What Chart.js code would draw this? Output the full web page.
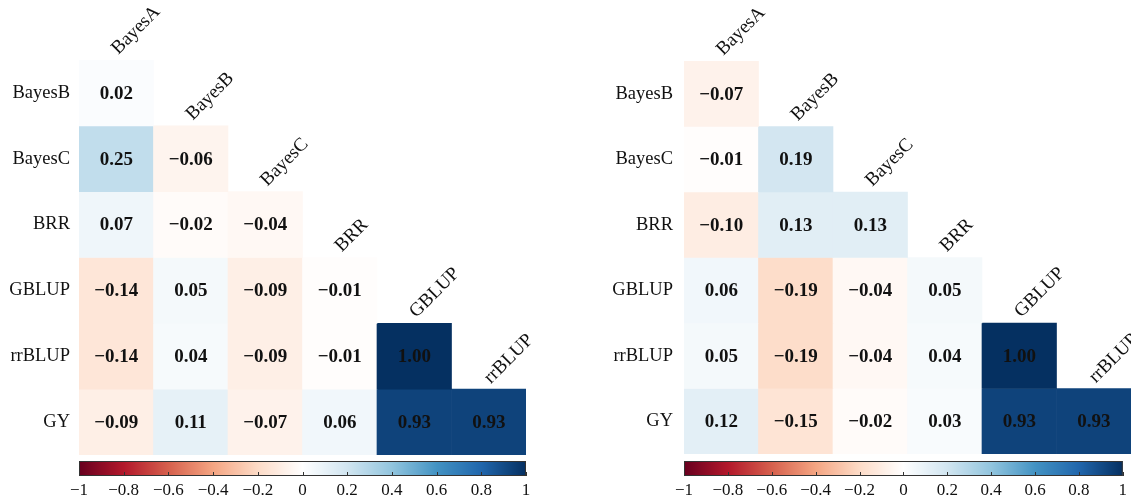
<!DOCTYPE html>
<html>
<head>
<meta charset="utf-8">
<script src="https://cdn.jsdelivr.net/npm/chart.js@4.4.1/dist/chart.umd.min.js"></script>
<style>
  html, body { margin: 0; padding: 0; background: #fff; width: 1131px; height: 495px; overflow: hidden; }
  canvas { position: absolute; display: block; }
</style>
</head>
<body>
<canvas id="heatLeft" width="560" height="460" style="left:0;top:0"></canvas>
<canvas id="heatRight" width="531" height="460" style="left:600px;top:0"></canvas>
<canvas id="barLeft" width="560" height="40" style="left:0;top:455px"></canvas>
<canvas id="barRight" width="531" height="40" style="left:600px;top:455px"></canvas>
<script>
// Row / column names of the lower-triangular correlation matrices
const rowNames = ['BayesB', 'BayesC', 'BRR', 'GBLUP', 'rrBLUP', 'GY'];
const colNames = ['BayesA', 'BayesB', 'BayesC', 'BRR', 'GBLUP', 'rrBLUP'];

// Correlations, left panel (row i holds columns 0..i)
const corrLeft = [
  [0.02],
  [0.25, -0.06],
  [0.07, -0.02, -0.04],
  [-0.14, 0.05, -0.09, -0.01],
  [-0.14, 0.04, -0.09, -0.01, 1.00],
  [-0.09, 0.11, -0.07, 0.06, 0.93, 0.93]
];

// Correlations, right panel
const corrRight = [
  [-0.07],
  [-0.01, 0.19],
  [-0.10, 0.13, 0.13],
  [0.06, -0.19, -0.04, 0.05],
  [0.05, -0.19, -0.04, 0.04, 1.00],
  [0.12, -0.15, -0.02, 0.03, 0.93, 0.93]
];

// Colour-bar tick values
const colorbarTicks = [-1, -0.8, -0.6, -0.4, -0.2, 0, 0.2, 0.4, 0.6, 0.8, 1];

// Diverging red-white-blue palette anchors (value -> hex)
const paletteValues = [-1, -0.8, -0.6, -0.4, -0.2, 0, 0.2, 0.4, 0.6, 0.8, 1];
const paletteHex = ['#67001F', '#B2182B', '#D6604D', '#F4A582', '#FDDBC7', '#FFFFFF',
                    '#D1E5F0', '#92C5DE', '#4393C3', '#2166AC', '#053061'];

function hexToRgb(h) {
  return [parseInt(h.slice(1, 3), 16), parseInt(h.slice(3, 5), 16), parseInt(h.slice(5, 7), 16)];
}
function rdbu(v) {
  v = Math.max(-1, Math.min(1, v));
  let i = 0;
  while (i < paletteValues.length - 2 && v > paletteValues[i + 1]) i++;
  const t = (v - paletteValues[i]) / (paletteValues[i + 1] - paletteValues[i]);
  const a = hexToRgb(paletteHex[i]), b = hexToRgb(paletteHex[i + 1]);
  const c = a.map((x, k) => Math.round(x + (b[k] - x) * t));
  return `rgb(${c[0]},${c[1]},${c[2]})`;
}

const MINUS = '\u2212';
function fmtCell(v) { return (v < 0 ? MINUS : '') + Math.abs(v).toFixed(2); }
function fmtTick(v) {
  const r = Math.round(v * 10) / 10;
  if (r === 0) return '0';
  return (r < 0 ? MINUS : '') + String(Math.abs(r));
}

const SERIF = '"Liberation Serif", "Times New Roman", serif';

// Prints the coefficient in the middle of every cell
const cellText = {
  id: 'cellText',
  afterDatasetsDraw(chart) {
    const ctx = chart.ctx;
    ctx.save();
    ctx.font = `bold 19px ${SERIF}`;
    ctx.fillStyle = '#111';
    ctx.textAlign = 'center';
    ctx.textBaseline = 'middle';
    chart.data.datasets.forEach((ds, di) => {
      const meta = chart.getDatasetMeta(di);
      meta.data.forEach((el, j) => {
        const v = ds.corr[j];
        if (v == null) return;
        const p = el.getCenterPoint();
        ctx.fillText(fmtCell(v), p.x, p.y + 1);
      });
    });
    ctx.restore();
  }
};

// Slanted column names sitting on top of the diagonal cells
const colLabels = {
  id: 'colLabels',
  afterDraw(chart) {
    const ctx = chart.ctx;
    const xs = chart.scales.x, ys = chart.scales.y;
    ctx.save();
    ctx.font = `19px ${SERIF}`;
    ctx.fillStyle = '#111';
    ctx.textAlign = 'left';
    ctx.textBaseline = 'alphabetic';
    colNames.forEach((name, j) => {
      const cx = xs.getPixelForValue(j);
      const top = ys.getPixelForValue(j - 0.5);
      ctx.save();
      ctx.translate(cx + 2, top - 5);
      ctx.rotate(-Math.PI / 4);
      ctx.fillText(name, 0, 0);
      ctx.restore();
    });
    ctx.restore();
  }
};

function heatmap(id, matrix, geom) {
  const datasets = rowNames.map((name, r) => ({
    label: name,
    data: colNames.map((c, j) => (j <= r ? [r - 0.5, r + 0.5] : null)),
    corr: colNames.map((c, j) => (j <= r ? matrix[r][j] : null)),
    backgroundColor: colNames.map((c, j) => (j <= r ? rdbu(matrix[r][j]) : 'rgba(0,0,0,0)')),
    borderWidth: 0,
    grouped: false,
    barPercentage: 1,
    categoryPercentage: 1
  }));
  return new Chart(document.getElementById(id), {
    type: 'bar',
    data: { labels: colNames, datasets },
    options: {
      responsive: false,
      animation: false,
      layout: { padding: { left: 0, top: geom.top, right: geom.right, bottom: geom.bottom } },
      plugins: { legend: { display: false }, tooltip: { enabled: false } },
      scales: {
        x: { display: false, offset: true },
        y: {
          type: 'linear',
          min: -0.5,
          max: 5.5,
          reverse: true,
          afterBuildTicks: s => { s.ticks = rowNames.map((_, i) => ({ value: i })); },
          afterFit: s => {
            s.width = geom.axisW;
            s.paddingTop = 0;
            s.paddingBottom = 0;
          },
          ticks: {
            callback: v => rowNames[v],
            font: { family: SERIF, size: 18.5 },
            color: '#111',
            padding: geom.labelPad
          },
          grid: { display: false, drawTicks: false },
          border: { display: false }
        }
      }
    },
    plugins: [cellText, colLabels]
  });
}

// Paints the colour ramp, its frame and the small inner tick marks
const gradientBar = {
  id: 'gradientBar',
  beforeDatasetsDraw(chart) {
    const { ctx, chartArea: a } = chart;
    const xs = chart.scales.x;
    const g = ctx.createLinearGradient(a.left, 0, a.right, 0);
    for (let k = 0; k <= 100; k++) {
      const v = -1 + k * 0.02;
      g.addColorStop(k / 100, rdbu(v));
    }
    ctx.save();
    ctx.fillStyle = g;
    ctx.fillRect(a.left, a.top, a.right - a.left, a.bottom - a.top);
    ctx.strokeStyle = '#333';
    ctx.lineWidth = 1;
    ctx.strokeRect(a.left + 0.5, a.top + 0.5, a.right - a.left - 1, a.bottom - a.top - 1);
    ctx.beginPath();
    colorbarTicks.forEach(v => {
      const x = Math.round(xs.getPixelForValue(v)) + 0.5;
      ctx.moveTo(x, a.bottom);
      ctx.lineTo(x, a.bottom - 4);
    });
    ctx.stroke();
    ctx.restore();
  }
};

function colorbar(id, geom) {
  return new Chart(document.getElementById(id), {
    type: 'scatter',
    data: { datasets: [] },
    options: {
      responsive: false,
      animation: false,
      layout: { padding: { left: geom.left, right: geom.right, top: geom.top, bottom: 0 } },
      plugins: { legend: { display: false }, tooltip: { enabled: false } },
      scales: {
        x: {
          type: 'linear',
          min: -1,
          max: 1,
          afterBuildTicks: s => { s.ticks = colorbarTicks.map(v => ({ value: v })); },
          afterFit: s => { s.height = geom.axisH; },
          ticks: {
            callback: v => fmtTick(v),
            autoSkip: false,
            maxRotation: 0,
            minRotation: 0,
            font: { family: SERIF, size: 17 },
            color: '#111',
            padding: geom.labelPad
          },
          grid: { display: false, drawTicks: false },
          border: { display: false }
        },
        y: { display: false, min: 0, max: 1 }
      }
    },
    plugins: [gradientBar]
  });
}

heatmap('heatLeft', corrLeft, { top: 60, right: 34, bottom: 5, axisW: 79, labelPad: 9 });
heatmap('heatRight', corrRight, { top: 61, right: 0, bottom: 6, axisW: 84, labelPad: 11 });
colorbar('barLeft', { left: 79, right: 34, top: 6, axisH: 19, labelPad: 4 });
colorbar('barRight', { left: 84, right: 3, top: 6, axisH: 19, labelPad: 4 });
</script>
</body>
</html>
